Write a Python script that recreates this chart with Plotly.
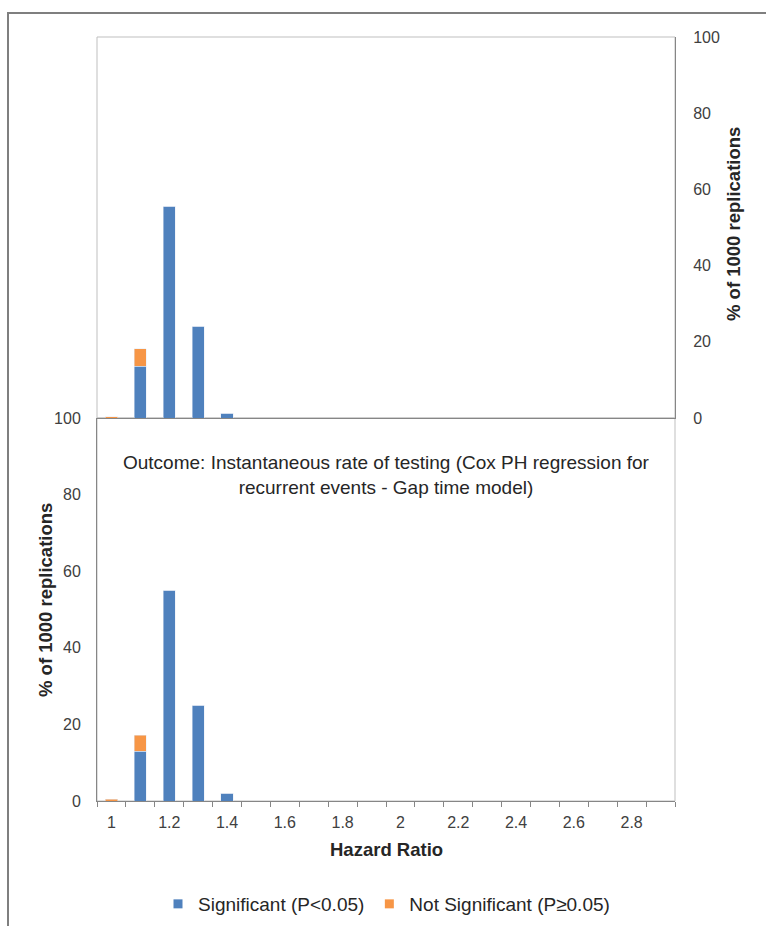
import plotly.graph_objects as go

# ---- data ----
hazard_ratio = [1.0, 1.1, 1.2, 1.3, 1.4, 1.5, 1.6, 1.7, 1.8, 1.9,
                2.0, 2.1, 2.2, 2.3, 2.4, 2.5, 2.6, 2.7, 2.8, 2.9]
# bottom panel (left axis)
significant = [0, 13, 55, 25, 2, 0, 0, 0, 0, 0, 0, 0, 0, 0, 0, 0, 0, 0, 0, 0]
not_significant = [0.5, 4.2, 0, 0, 0, 0, 0, 0, 0, 0, 0, 0, 0, 0, 0, 0, 0, 0, 0, 0]
# top panel (right axis)
significant_top = [0, 13.6, 55.6, 24.1, 1.3, 0, 0, 0, 0, 0, 0, 0, 0, 0, 0, 0, 0, 0, 0, 0]
not_significant_top = [0.3, 4.6, 0, 0, 0, 0, 0, 0, 0, 0, 0, 0, 0, 0, 0, 0, 0, 0, 0, 0]
tick_vals = [1.0, 1.2, 1.4, 1.6, 1.8, 2.0, 2.2, 2.4, 2.6, 2.8]
tick_text = ["1", "1.2", "1.4", "1.6", "1.8", "2", "2.2", "2.4", "2.6", "2.8"]
y_ticks = [0, 20, 40, 60, 80, 100]

BLUE = "#4F81BD"
ORANGE = "#F79646"
AXIS = "#868686"
LIGHT = "#BFBFBF"
FONT = "Liberation Sans, Arial, sans-serif"
TXT = "#262626"

W, H = 766, 926
def px(x): return x / W
def py(y): return 1 - y / H

X0, X1 = px(97), px(675)
Y_BOT0, Y_MID, Y_TOP1 = py(801), py(418), py(37)

BW = 0.042

fig = go.Figure()
# legend entries
fig.add_trace(go.Scatter(x=[None], y=[None], mode="markers", name="Significant (P<0.05)",
                         marker=dict(symbol="square", size=9, color=BLUE), xaxis="x", yaxis="y"))
fig.add_trace(go.Scatter(x=[None], y=[None], mode="markers", name="Not Significant (P≥0.05)",
                         marker=dict(symbol="square", size=9, color=ORANGE), xaxis="x", yaxis="y"))
# bottom panel
fig.add_trace(go.Bar(x=hazard_ratio, y=significant, marker_color=BLUE, width=BW,
                     xaxis="x", yaxis="y", showlegend=False, name="Significant (P<0.05)"))
fig.add_trace(go.Bar(x=hazard_ratio, y=not_significant, marker_color=ORANGE, width=BW,
                     xaxis="x", yaxis="y", showlegend=False, name="Not Significant (P≥0.05)"))
# top panel
fig.add_trace(go.Bar(x=hazard_ratio, y=significant_top, marker_color=BLUE, width=BW,
                     xaxis="x2", yaxis="y2", showlegend=False))
fig.add_trace(go.Bar(x=hazard_ratio, y=not_significant_top, marker_color=ORANGE, width=BW,
                     xaxis="x2", yaxis="y2", showlegend=False))

tickfont = dict(family=FONT, size=16, color="#404040")

fig.update_layout(
    width=W, height=H,
    margin=dict(l=0, r=0, t=0, b=0, autoexpand=False),
    paper_bgcolor="white", plot_bgcolor="rgba(0,0,0,0)",
    barmode="stack",
    font=dict(family=FONT, color=TXT),
    xaxis=dict(domain=[X0, X1], anchor="y", range=[0.95, 2.95],
               tickvals=tick_vals, ticktext=tick_text, ticks="",
               showline=True, linecolor=AXIS, linewidth=1,
               showgrid=False, zeroline=False, tickfont=tickfont,
               ticklabelstandoff=7, automargin=False,
               minor=dict(ticks="outside", tick0=0.95, dtick=0.1, ticklen=5,
                          tickcolor=AXIS, tickwidth=1, showgrid=False)),
    yaxis=dict(domain=[Y_BOT0, Y_MID], anchor="x", range=[0, 100],
               tickvals=y_ticks, ticks="", showline=True, linecolor=AXIS,
               showgrid=False, zeroline=False, tickfont=tickfont,
               ticklabelstandoff=12, automargin=False),
    xaxis2=dict(domain=[X0, X1], anchor="y2", range=[0.95, 2.95],
                showticklabels=False, ticks="", showline=True, linecolor=AXIS,
                showgrid=False, zeroline=False, automargin=False),
    yaxis2=dict(domain=[Y_MID, Y_TOP1], anchor="x2", side="right", range=[0, 100],
                tickvals=y_ticks, ticks="", showline=True, linecolor=AXIS,
                showgrid=False, zeroline=False, tickfont=tickfont,
                ticklabelstandoff=14, automargin=False),
    legend=dict(orientation="h", x=px(158), xanchor="left", y=py(904), yanchor="middle",
                xref="paper", yref="paper", traceorder="normal",
                font=dict(family=FONT, size=19, color=TXT), bgcolor="rgba(0,0,0,0)",
                itemclick=False),
    shapes=[
        # outer frame
        dict(type="rect", xref="paper", yref="paper", x0=px(8), x1=1.05, y0=-0.05, y1=py(13),
             line=dict(color="#7F7F7F", width=2), layer="below"),
        # top panel plot-area border
        dict(type="rect", xref="x2 domain", yref="y2 domain", x0=0, x1=1, y0=0, y1=1,
             line=dict(color=LIGHT, width=1), layer="below"),
        # bottom panel plot-area border
        dict(type="rect", xref="x domain", yref="y domain", x0=0, x1=1, y0=0, y1=1,
             line=dict(color=LIGHT, width=1), layer="below"),
    ],
    annotations=[
        dict(text="Outcome: Instantaneous rate of testing (Cox PH regression for<br>recurrent events - Gap time model)",
             xref="paper", yref="paper", x=px(386), y=py(474.5), xanchor="center", yanchor="middle",
             showarrow=False, font=dict(family=FONT, size=19, color=TXT), align="center"),
        dict(text="<b>% of 1000 replications</b>", xref="paper", yref="paper",
             x=px(45), y=py(600), textangle=-90, showarrow=False,
             xanchor="center", yanchor="middle", font=dict(family=FONT, size=18.5, color=TXT)),
        dict(text="<b>% of 1000 replications</b>", xref="paper", yref="paper",
             x=px(734), y=py(224), textangle=-90, showarrow=False,
             xanchor="center", yanchor="middle", font=dict(family=FONT, size=18.5, color=TXT)),
        dict(text="<b>Hazard Ratio</b>", xref="paper", yref="paper",
             x=px(386), y=py(849), showarrow=False, xanchor="center", yanchor="middle",
             font=dict(family=FONT, size=18.5, color=TXT)),
    ],
)

fig.write_html("out.html")
